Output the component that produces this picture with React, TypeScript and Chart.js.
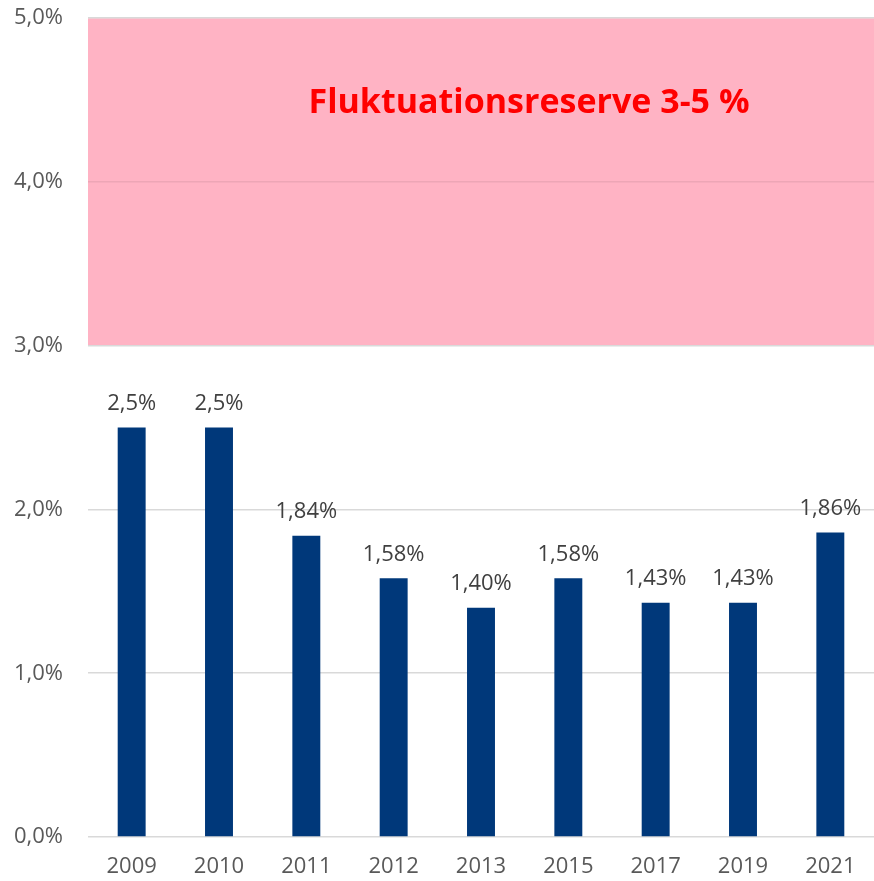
import React, { useEffect, useRef } from "react";
import { Chart, registerables } from "chart.js";

Chart.register(...registerables);

const categories = ["2009", "2010", "2011", "2012", "2013", "2015", "2017", "2019", "2021"];
const values = [2.5, 2.5, 1.84, 1.58, 1.4, 1.58, 1.43, 1.43, 1.86];
const valueLabels = ["2,5%", "2,5%", "1,84%", "1,58%", "1,40%", "1,58%", "1,43%", "1,43%", "1,86%"];
const bandRange = [3, 5];
const bandText = "Fluktuationsreserve 3-5 %";

const FONT = "'Open Sans', 'Liberation Sans', sans-serif";

export default function App() {
  const ref = useRef<HTMLCanvasElement | null>(null);

  useEffect(() => {
    if (!ref.current) return;
    const bandPlugin = {
      id: "band",
      beforeDraw(chart: any) {
        const { ctx, chartArea, scales } = chart;
        const y = scales.y;
        const top = y.getPixelForValue(bandRange[1]);
        const bottom = y.getPixelForValue(bandRange[0]);
        ctx.save();
        ctx.fillStyle = "#FFB3C4";
        ctx.fillRect(chartArea.left, top, chartArea.right - chartArea.left, bottom - top);
        ctx.restore();
      },
      afterDatasetsDraw(chart: any) {
        const { ctx } = chart;
        const meta = chart.getDatasetMeta(0);
        ctx.save();
        ctx.fillStyle = "#404040";
        ctx.font = `22px ${FONT}`;
        ctx.textAlign = "center";
        ctx.textBaseline = "middle";
        meta.data.forEach((bar: any, i: number) => {
          ctx.fillText(valueLabels[i], bar.x, bar.y - 24);
        });
        ctx.fillStyle = "#FF0000";
        ctx.font = `bold 34px ${FONT}`;
        const ys = chart.scales.y;
        const yMid = ys.getPixelForValue(4.48);
        ctx.fillText(bandText, 529, yMid);
        ctx.restore();
      },
    };

    const chart = new Chart(ref.current, {
      type: "bar",
      data: {
        labels: categories,
        datasets: [
          {
            data: values,
            backgroundColor: "#00387A",
            barPercentage: 0.32,
            categoryPercentage: 1,
          },
        ],
      },
      options: {
        animation: false,
        responsive: false,
        maintainAspectRatio: false,
        layout: { padding: 0 },
        plugins: { legend: { display: false }, tooltip: { enabled: false } },
        scales: {
          x: {
            grid: { display: false, drawTicks: false },
            border: { display: false },
            ticks: { color: "#595959", font: { size: 22, family: FONT }, padding: 17 },
            afterFit(scale: any) {
              scale.height = 44;
            },
          },
          y: {
            min: 0,
            max: 5,
            grid: {
              color: (c: any) => (c.tick && c.tick.value > 3 && c.tick.value < 5 ? "#EDA6B6" : "#D9D9D9"),
              lineWidth: 1.5,
              drawTicks: false,
            },
            border: { display: false },
            ticks: {
              stepSize: 1,
              color: "#595959",
              font: { size: 22, family: FONT },
              padding: 25,
              callback: (v: any) => Number(v).toFixed(1).replace(".", ",") + "%",
            },
            afterFit(scale: any) {
              scale.width = 88;
            },
          },
        },
      },
      plugins: [bandPlugin],
    });
    return () => chart.destroy();
  }, []);

  return (
    <div
      style={{
        position: "absolute",
        left: 0,
        top: 0,
        width: 874,
        height: 881,
        overflow: "hidden",
        background: "#fff",
      }}
    >
      <canvas
        ref={ref}
        width={874}
        height={901}
        style={{ display: "block", width: 874, height: 901, marginTop: -20 }}
      />
    </div>
  );
}
